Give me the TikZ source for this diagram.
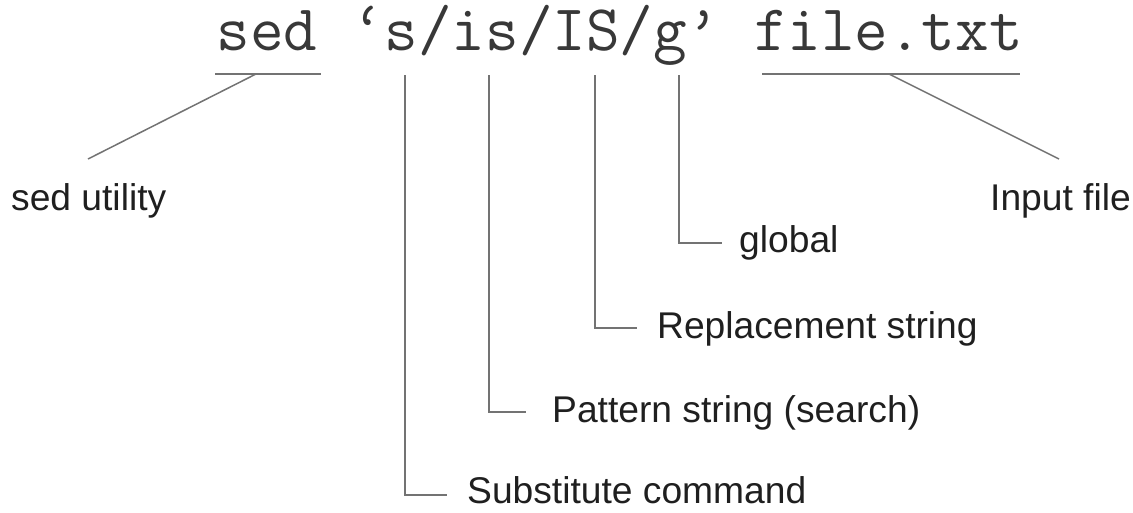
\documentclass[tikz,border=0pt]{standalone}
\usepackage{fontspec}
\setmainfont{Liberation Sans}
\begin{document}
\begin{tikzpicture}[x=1pt,y=-1pt,
  lbl/.style={font=\fontsize{37.2}{41}\selectfont, text=black!88, inner sep=0pt, anchor=base west},
  cmdtext/.style={font=\ttfamily\fontsize{65.2}{70}\selectfont, text=black!78, inner sep=0pt, anchor=base west},
  lead/.style={draw=black!55, line width=1.5pt}]
\useasboundingbox (0,0) rectangle (1133,512);
\node[cmdtext] (cmd) at (216.6,50) {sed ‘s/is/IS/g’ file.txt};
% underlines
\coordinate (u1a) at (215,74);
\coordinate (u1b) at (321,74);
\coordinate (u2a) at (762,74);
\coordinate (u2b) at (1020,74);
\draw[lead] (u1a) -- (u1b);
\draw[lead] (u2a) -- (u2b);
% labels
\node[lbl] (lsed) at (11,210) {sed utility};
\node[lbl] (lfile) at (990,210) {Input file};
\node[lbl] (lsub) at (467,503) {Substitute command};
\node[lbl] (lpat) at (552,422) {Pattern string (search)};
\node[lbl] (lrep) at (657,338) {Replacement string};
\node[lbl] (lglob) at (739,252) {global};
% connector points
\coordinate (d1) at (256,74);
\coordinate (d1e) at (88,159);
\coordinate (d2) at (889,74);
\coordinate (d2e) at (1059,159);
\coordinate (s1) at (405,75);
\coordinate (s1e) at (447,495);
\coordinate (s2) at (489,75);
\coordinate (s2e) at (526,412);
\coordinate (s3) at (595,75);
\coordinate (s3e) at (637,328);
\coordinate (s4) at (679,75);
\coordinate (s4e) at (722,243);
\draw[lead] (d1) -- (d1e);
\draw[lead] (d2) -- (d2e);
\draw[lead] (s1) |- (s1e);
\draw[lead] (s2) |- (s2e);
\draw[lead] (s3) |- (s3e);
\draw[lead] (s4) |- (s4e);
\end{tikzpicture}
\end{document}
